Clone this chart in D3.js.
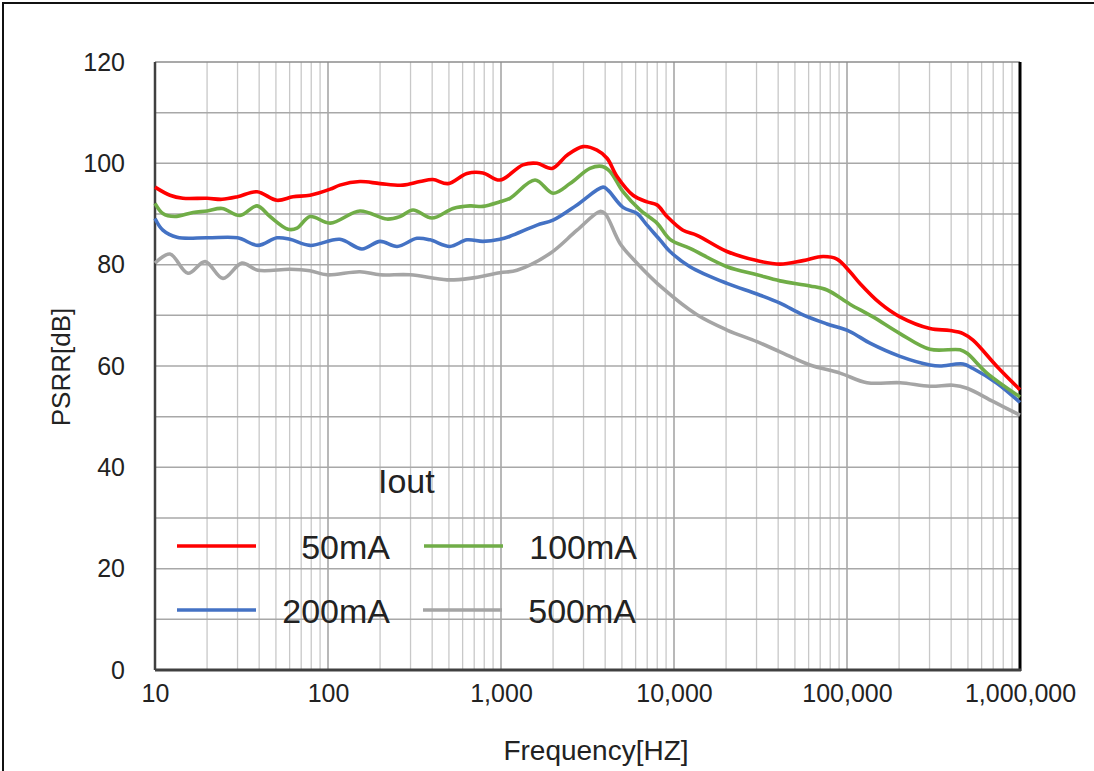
<!DOCTYPE html>
<html>
<head>
<meta charset="utf-8">
<script src="https://cdn.jsdelivr.net/npm/d3@7"></script>
<style>
  body { margin: 0; background: #fff; }
  svg text { font-family: "Liberation Sans", Arial, sans-serif; fill: #222; }
</style>
</head>
<body>
<svg id="chart" width="1094" height="771"></svg>
<script>
// PSRR vs frequency
const freq50 = [10, 12.2, 14.5, 20, 24.4, 30, 38.9, 50.7, 62.8, 78.7, 103, 117, 153, 200, 271, 340, 404, 494, 636, 787, 986,
  1339, 1615, 1972, 2410, 2979, 3587, 4101, 4686, 5796, 6980, 7973, 9111, 11270, 13580, 20240, 30170, 41010, 55700,
  72660, 87520, 104000, 118800, 155200, 202500, 301700, 394000, 468700, 535000, 736000, 1000000];
const psrr50 = [95.3, 93.7, 93.1, 93.1, 92.9, 93.4, 94.4, 92.7, 93.4, 93.7, 94.9, 95.7, 96.4, 96.0, 95.7, 96.4, 96.8, 96.0, 98.0, 98.1, 96.7,
  99.7, 100.0, 99.0, 101.6, 103.3, 102.6, 101.0, 97.4, 93.7, 92.4, 91.8, 89.5, 86.8, 85.8, 82.6, 80.8, 80.1, 80.8,
  81.6, 81.1, 78.6, 76.3, 72.4, 69.7, 67.4, 67.0, 66.4, 65.1, 59.9, 55.3];

const freq100 = [10, 11.1, 13, 16.6, 20, 24.4, 31, 38.9, 46.2, 58.7, 66.2, 78.7, 103, 153, 219, 261, 310, 399, 528, 662, 787, 986,
  1127, 1573, 1999, 2506, 3268, 3834, 4266, 5072, 6358, 7973, 9480, 12370, 20240, 30170, 41010, 61130, 76620,
  104000, 141300, 202500, 301700, 450000, 494500, 644000, 1000000];
const psrr100 = [92.1, 90.1, 89.5, 90.3, 90.6, 91.1, 89.7, 91.6, 89.5, 87.0, 87.2, 89.5, 88.2, 90.6, 89.0, 89.5, 90.8, 89.2, 91.1, 91.6, 91.5, 92.4,
  93.1, 96.7, 94.1, 96.0, 99.0, 99.4, 98.4, 94.4, 90.8, 88.2, 85.0, 83.2, 79.6, 78.0, 76.8, 75.8, 75.0,
  72.2, 69.7, 66.4, 63.3, 63.2, 62.5, 58.6, 53.9];

const freq200 = [10, 11.1, 13.4, 20, 30, 39.4, 50.7, 60.3, 78.7, 117, 157, 200, 251, 327, 389, 507, 636, 787, 986,
  1127, 1615, 1999, 2750, 3888, 4153, 5072, 6113, 6980, 8296, 9480, 12370, 20240, 30170, 41010, 55700, 76620,
  104000, 135800, 202500, 301700, 344900, 468700, 535000, 736000, 1000000];
const psrr200 = [89.1, 86.8, 85.4, 85.3, 85.3, 83.8, 85.3, 85.0, 83.8, 85.0, 83.1, 84.6, 83.6, 85.2, 84.9, 83.6, 84.9, 84.6, 85.0,
  85.6, 87.8, 88.8, 91.8, 95.3, 94.7, 91.3, 90.1, 87.8, 84.9, 82.6, 79.6, 76.3, 74.2, 72.4, 70.1, 68.3,
  66.8, 64.5, 61.9, 60.2, 60.0, 60.4, 59.5, 56.6, 52.8];

const freq500 = [10, 12.2, 15.5, 19.5, 24.7, 31.8, 39.4, 60.3, 78.7, 98.7, 153, 200, 298, 488, 662, 986,
  1237, 1919, 2750, 3733, 3993, 4875, 6113, 8632, 13580, 20240, 30170, 41010, 61130, 91160,
  130500, 202500, 301700, 410000, 494500, 698000, 1000000];
const psrr500 = [80.3, 82.1, 78.3, 80.6, 77.3, 80.3, 78.9, 79.1, 78.8, 78.0, 78.6, 78.0, 78.0, 77.0, 77.3, 78.4,
  78.9, 82.2, 86.8, 90.5, 90.1, 84.2, 80.3, 75.3, 70.1, 67.1, 64.8, 62.8, 60.2, 58.6,
  56.7, 56.7, 56.0, 56.2, 55.6, 53.0, 50.3];

const seriesNames = ["50mA", "100mA", "200mA", "500mA"];
const seriesColors = ["#ff0000", "#70ad47", "#4472c4", "#a5a5a5"];
const yTicks = [0, 20, 40, 60, 80, 100, 120];
const xTicks = [10, 100, 1000, 10000, 100000, 1000000];

const svg = d3.select("#chart");
const plotLeft = 155, plotRight = 1020, plotTop = 62, plotBottom = 670;

// outer frame
svg.append("rect")
  .attr("x", 3).attr("y", 3)
  .attr("width", 1200).attr("height", 1000)
  .attr("fill", "none").attr("stroke", "#111").attr("stroke-width", 2);

const x = d3.scaleLog().domain([10, 1000000]).range([plotLeft, plotRight]);
const y = d3.scaleLinear().domain([0, 120]).range([plotBottom, plotTop]);

// grid
const grid = svg.append("g");
grid.selectAll(".vminor")
  .data(x.ticks().filter(d => !xTicks.includes(d)))
  .join("line")
  .attr("x1", d => x(d)).attr("x2", d => x(d))
  .attr("y1", plotTop).attr("y2", plotBottom)
  .attr("stroke", "#c8c8c8").attr("stroke-width", 1.3);

grid.selectAll(".vmajor")
  .data(xTicks)
  .join("line")
  .attr("x1", d => x(d)).attr("x2", d => x(d))
  .attr("y1", plotTop).attr("y2", plotBottom)
  .attr("stroke", "#a0a0a0").attr("stroke-width", 1.5);

grid.selectAll(".hline")
  .data(d3.range(10, 120, 10))
  .join("line")
  .attr("x1", plotLeft).attr("x2", plotRight)
  .attr("y1", d => y(d)).attr("y2", d => y(d))
  .attr("stroke", "#a8a8a8").attr("stroke-width", 1.5);

// plot border
svg.append("line").attr("x1", plotLeft).attr("x2", plotRight).attr("y1", plotTop).attr("y2", plotTop)
  .attr("stroke", "#8c8c8c").attr("stroke-width", 1.5);
svg.append("line").attr("x1", plotLeft).attr("x2", plotLeft).attr("y1", plotTop).attr("y2", plotBottom)
  .attr("stroke", "#404040").attr("stroke-width", 2.5);
svg.append("line").attr("x1", plotRight).attr("x2", plotRight).attr("y1", plotTop).attr("y2", plotBottom + 1)
  .attr("stroke", "#000").attr("stroke-width", 3);
svg.append("line").attr("x1", plotLeft).attr("x2", plotRight + 1).attr("y1", plotBottom).attr("y2", plotBottom)
  .attr("stroke", "#404040").attr("stroke-width", 3);

// axes
const fmt = d3.format(",");
const yAxis = svg.append("g")
  .attr("transform", `translate(${plotLeft},0)`)
  .call(d3.axisLeft(y).tickValues(yTicks).tickSize(0).tickPadding(30));
yAxis.select(".domain").remove();
yAxis.selectAll("text").style("font-size", "25px").attr("fill", "#222");

const xAxis = svg.append("g")
  .attr("transform", `translate(0,${plotBottom})`)
  .call(d3.axisBottom(x).tickValues(xTicks).tickFormat(fmt).tickSize(0).tickPadding(14));
xAxis.select(".domain").remove();
xAxis.selectAll("text").style("font-size", "25px").attr("fill", "#222");

svg.append("text")
  .attr("x", 596).attr("y", 760)
  .attr("text-anchor", "middle")
  .style("font-size", "28px")
  .text("Frequency[HZ]");

svg.append("text")
  .attr("transform", "translate(70,367) rotate(-90)")
  .attr("text-anchor", "middle")
  .style("font-size", "26px")
  .text("PSRR[dB]");

// curves
const allSeries = [
  { f: freq50, v: psrr50 },
  { f: freq100, v: psrr100 },
  { f: freq200, v: psrr200 },
  { f: freq500, v: psrr500 }
];

const line = d3.line()
  .x(d => x(d[0]))
  .y(d => y(d[1]))
  .curve(d3.curveCatmullRom.alpha(0.5));

// draw back to front so red sits on top
for (let i = allSeries.length - 1; i >= 0; i--) {
  const s = allSeries[i];
  svg.append("path")
    .datum(d3.zip(s.f, s.v))
    .attr("d", line)
    .attr("fill", "none")
    .attr("stroke", seriesColors[i])
    .attr("stroke-width", 3.6)
    .attr("stroke-linejoin", "round");
}

// legend
svg.append("text")
  .attr("x", 378).attr("y", 493)
  .style("font-size", "34px")
  .text("Iout");

const legendPos = [
  { lx: 177, ly: 546, tx: 390 },
  { lx: 424, ly: 546, tx: 637 },
  { lx: 177, ly: 610, tx: 390 },
  { lx: 423, ly: 610, tx: 636 }
];

const legend = svg.append("g");
legendPos.forEach((p, i) => {
  legend.append("line")
    .attr("x1", p.lx).attr("x2", p.lx + 79)
    .attr("y1", p.ly).attr("y2", p.ly)
    .attr("stroke", seriesColors[i]).attr("stroke-width", 3.6);
  legend.append("text")
    .attr("x", p.tx).attr("y", p.ly + 13)
    .attr("text-anchor", "end")
    .style("font-size", "34px")
    .text(seriesNames[i]);
});
</script>
</body>
</html>
